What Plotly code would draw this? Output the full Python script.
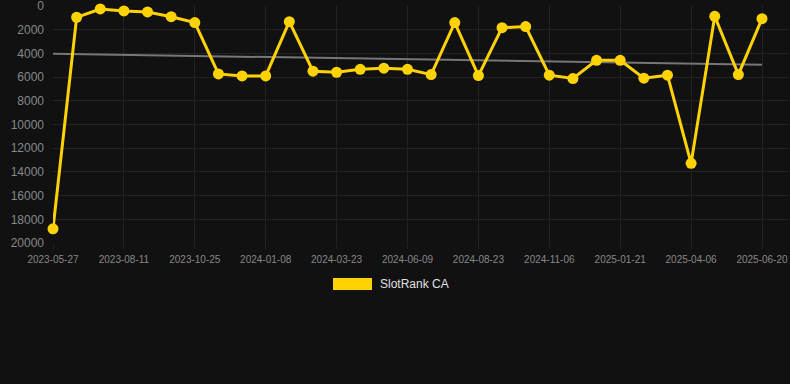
import plotly.graph_objects as go

dates = ["2023-05-27", "2023-06-21", "2023-07-16", "2023-08-11", "2023-09-05", "2023-09-30",
         "2023-10-25", "2023-11-19", "2023-12-14", "2024-01-08", "2024-02-02", "2024-02-27",
         "2024-03-23", "2024-04-17", "2024-05-15", "2024-06-09", "2024-07-04", "2024-07-29",
         "2024-08-23", "2024-09-17", "2024-10-12", "2024-11-06", "2024-12-01", "2024-12-26",
         "2025-01-21", "2025-02-15", "2025-03-12", "2025-04-06", "2025-05-01", "2025-05-26",
         "2025-06-20"]
rank = [18800, 950, 250, 420, 500, 900,
        1400, 5730, 5900, 5900, 1320, 5500,
        5590, 5340, 5250, 5340, 5790, 1400,
        5870, 1830, 1740, 5840, 6120, 4580,
        4580, 6090, 5840, 13280, 870, 5790,
        1070]
trend_x = [dates[0], dates[-1]]
trend_y = [4030, 4950]
tick_labels = dates[::3]
y_ticks = list(range(0, 20001, 2000))

GOLD = "#FFD200"
BG = "#111111"
GRID = "#232323"
FONT = "Arial, 'Liberation Sans', sans-serif"

fig = go.Figure()
fig.add_trace(go.Scatter(x=trend_x, y=trend_y, mode="lines",
                         line=dict(color="#777777", width=2), showlegend=False,
                         hoverinfo="skip"))
fig.add_trace(go.Scatter(x=dates, y=rank, mode="lines+markers", name="SlotRank CA",
                         line=dict(color=GOLD, width=3),
                         marker=dict(color=GOLD, size=11),
                         cliponaxis=False, showlegend=False))

# legend (manual, rectangle swatch)
fig.add_shape(type="rect", xref="paper", yref="paper",
              x0=(333 - 53) / 735, x1=(372 - 53) / 735,
              y0=(243 - 290) / 237, y1=(243 - 278) / 237,
              fillcolor=GOLD, line=dict(width=0))
fig.add_annotation(text="SlotRank CA", xref="paper", yref="paper",
                   x=(378 - 53) / 735, y=(243 - 284) / 237, xanchor="left", yanchor="middle",
                   showarrow=False, font=dict(color="#e0e0e0", size=12, family=FONT))

fig.update_layout(
    width=790, height=384,
    margin=dict(l=53, r=2, t=6, b=141, autoexpand=False),
    paper_bgcolor=BG, plot_bgcolor=BG,
    font=dict(family=FONT, color="#888888"),
    xaxis=dict(type="category", categoryorder="array", categoryarray=dates,
               range=[0, 31.1], tickvals=tick_labels, ticktext=tick_labels,
               showgrid=True, gridcolor=GRID, gridwidth=1,
               ticks="outside", ticklen=5, tickcolor=GRID,
               ticklabelstandoff=2, automargin=False,
               tickfont=dict(size=10, color="#888888"),
               zeroline=False, showline=False),
    yaxis=dict(range=[20000, 0], tickvals=y_ticks, ticktext=[str(v) for v in y_ticks],
               showgrid=True, gridcolor=GRID, gridwidth=1,
               tickfont=dict(size=12, color="#888888"),
               ticklabelstandoff=8, ticklabeloverflow="allow", automargin=False,
               zeroline=False, showline=False),
    showlegend=False,
)

fig.write_html("out.html")
